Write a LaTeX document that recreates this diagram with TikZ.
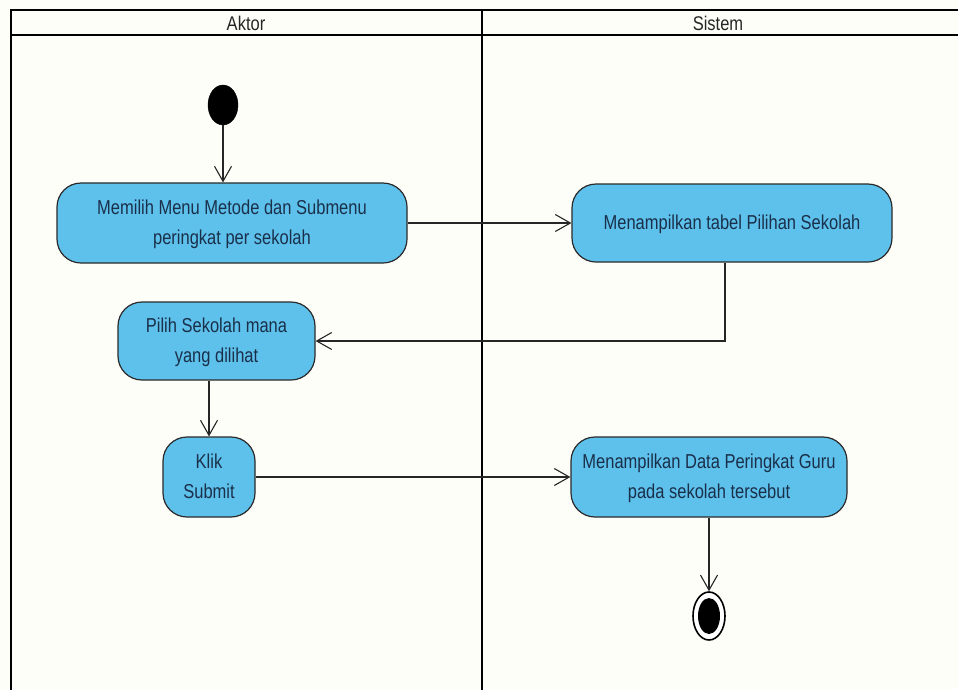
\documentclass[tikz,border=0pt]{standalone}
\usepackage{fontspec}
\usepackage{graphicx}
\setmainfont{Liberation Sans}
\usetikzlibrary{arrows.meta,shapes.geometric}
\definecolor{bgcol}{HTML}{FDFEF8}
\definecolor{boxfill}{HTML}{5EC1EB}
\definecolor{boxdraw}{HTML}{2A2A2A}
\definecolor{txtcol}{HTML}{1A2F4A}
\newcommand{\stretchtxt}[1]{\scalebox{1}[1.22]{\begin{tabular}{@{}c@{}}#1\end{tabular}}}
\tikzset{
  actbox/.style={draw=boxdraw, line width=1.2pt, fill=boxfill, rounded corners=24pt,
    inner sep=0pt, text=txtcol, font=\fontsize{16.5}{24.6}\selectfont},
  flow/.style={draw=black!85, line width=1.1pt, -{Straight Barb[length=15pt,width=17pt,line width=1.1pt]}},
  frameline/.style={draw=black, line width=2.6pt},
  headtxt/.style={font=\fontsize{16.5}{20}\selectfont, text=black!85}
}
\begin{document}
\begin{tikzpicture}[x=1pt,y=-1pt]
\useasboundingbox (0,0) rectangle (958,689);
\fill[bgcol] (0,0) rectangle (958,689);
% swimlane frame
\draw[frameline] (11,10) -- (960,10);
\draw[frameline] (11,35) -- (960,35);
\draw[draw=black, line width=2pt] (11,9) -- (11,691);
\draw[frameline] (482,9) -- (482,691);
\node[headtxt] (hA) at (246,23) {\scalebox{1}[1.2]{Aktor}};
\node[headtxt] (hS) at (718,23) {\scalebox{1}[1.2]{Sistem}};
% start and end
\node[draw=black, fill=black, ellipse, minimum width=30pt, minimum height=40pt, inner sep=0pt] (start) at (223,105) {};
\node[draw=black, line width=1.6pt, fill=white, ellipse, minimum width=32pt, minimum height=48pt, inner sep=0pt] (end) at (709,616) {};
\node[fill=black, ellipse, minimum width=22pt, minimum height=36pt, inner sep=0pt] (endin) at (709,616) {};
% activities
\node[actbox, minimum width=350pt, minimum height=80pt] (b1) at (232,223) {\stretchtxt{Memilih Menu Metode dan Submenu\\peringkat per sekolah}};
\node[actbox, minimum width=320pt, minimum height=78pt] (b2) at (732,223) {\stretchtxt{Menampilkan tabel Pilihan Sekolah}};
\node[actbox, minimum width=197pt, minimum height=78pt] (b3) at (216.5,341) {\stretchtxt{Pilih Sekolah mana\\yang dilihat}};
\node[actbox, minimum width=92pt, minimum height=80pt] (b4) at (209,477) {\stretchtxt{Klik\\Submit}};
\node[actbox, minimum width=276pt, minimum height=80pt] (b5) at (709,477) {\stretchtxt{Menampilkan Data Peringkat Guru\\pada sekolah tersebut}};
% connectors
\draw[flow] (start.south) -- (start.south |- b1.north);
\draw[flow] (b1.east) -- (b2.west);
\draw[flow] ([xshift=-7pt]b2.south) |- (b3.east);
\draw[flow] (b4.north |- b3.south) -- (b4.north);
\draw[flow] (b4.east) -- (b5.west);
\draw[flow] (b5.south) -- (end.north);
\end{tikzpicture}
\end{document}
